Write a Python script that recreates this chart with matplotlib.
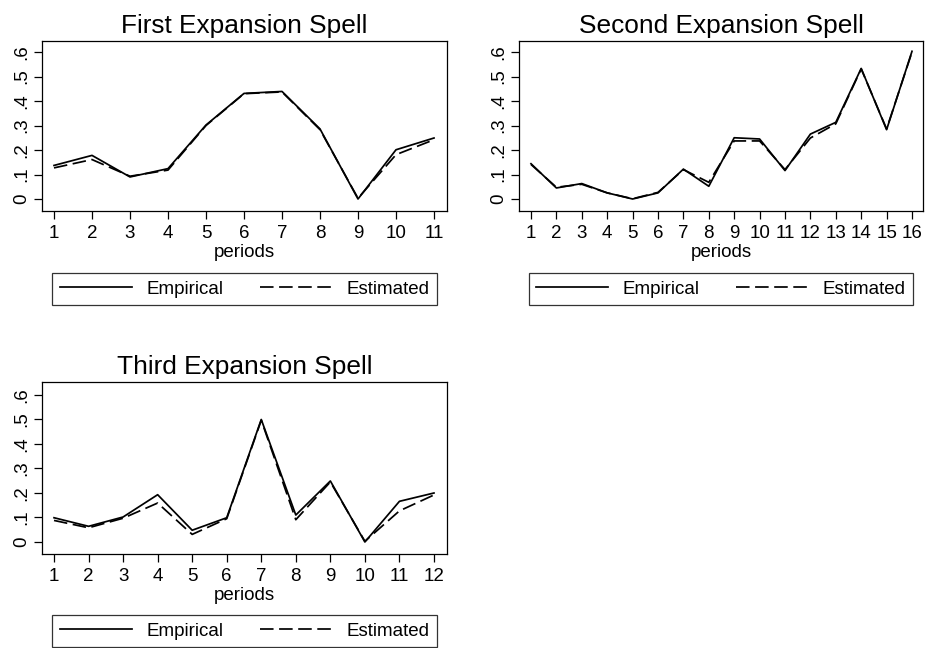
import matplotlib
matplotlib.use("Agg")
import matplotlib.pyplot as plt
from matplotlib.lines import Line2D

plt.rcParams['font.family'] = ['Liberation Sans', 'DejaVu Sans']

titles = ["First Expansion Spell", "Second Expansion Spell", "Third Expansion Spell"]

emp1 = [0.137, 0.178, 0.090, 0.124, 0.302, 0.431, 0.439, 0.286, 0.0, 0.201, 0.249]
est1 = [0.127, 0.161, 0.093, 0.118, 0.300, 0.430, 0.437, 0.283, 0.003, 0.181, 0.242]

emp2 = [0.144, 0.045, 0.063, 0.025, 0.0, 0.025, 0.122, 0.052, 0.250, 0.245,
        0.116, 0.265, 0.313, 0.533, 0.283, 0.603]
est2 = [0.141, 0.048, 0.060, 0.025, 0.001, 0.027, 0.120, 0.068, 0.237, 0.237,
        0.120, 0.249, 0.307, 0.531, 0.286, 0.600]

emp3 = [0.099, 0.064, 0.102, 0.193, 0.048, 0.099, 0.500, 0.110, 0.249, 0.0, 0.166, 0.200]
est3 = [0.088, 0.058, 0.097, 0.159, 0.031, 0.095, 0.497, 0.091, 0.245, 0.003, 0.127, 0.192]

yticks = [0, 0.1, 0.2, 0.3, 0.4, 0.5, 0.6]
ytick_labels = ["0", ".1", ".2", ".3", ".4", ".5", ".6"]

W, H = 925, 648
fig = plt.figure(figsize=(W / 100, H / 100), dpi=100)

def px_axes(l, t, r, b):
    return fig.add_axes([l / W, 1 - b / H, (r - l) / W, (b - t) / H])

panels = [
    ((42, 41, 447, 211), (0.684, 11.342), (-0.049, 0.645), (244.5, 289), emp1, est1, titles[0]),
    ((519, 41, 923, 211), (0.528, 16.433), (-0.049, 0.645), (721, 289), emp2, est2, titles[1]),
    ((42, 382, 447, 554), (0.652, 12.377), (-0.049, 0.653), (244.5, 631), emp3, est3, titles[2]),
]

lw = 1.25
dash = (0, (7.8, 3.2))
for box, xl, yl, lgc, emp, est, title in panels:
    ax = px_axes(*box)
    x = list(range(1, len(emp) + 1))
    ax.plot(x, emp, color='black', lw=lw, ls='-')
    ax.plot(x, est, color='black', lw=lw, ls=dash)
    ax.set_xlim(*xl)
    ax.set_ylim(*yl)
    ax.set_xticks(x)
    ax.set_xticklabels([str(v) for v in x], fontsize=13.5)
    ax.set_yticks(yticks)
    ax.set_yticklabels(ytick_labels, fontsize=13.5, rotation=90, va='center')
    ax.tick_params(direction='out', length=5.8, width=0.9)
    ax.tick_params(axis='x', pad=4.5)
    ax.tick_params(axis='y', pad=3)
    for s in ax.spines.values():
        s.set_linewidth(0.9)
    ax.set_xlabel("periods", fontsize=13.5, labelpad=1.5)
    ax.set_title(title, fontsize=18.9, pad=6)
    handles = [Line2D([], [], color='black', lw=lw, ls='-'),
               Line2D([], [], color='black', lw=lw, ls=dash)]
    cx, cy = lgc
    leg = fig.legend(handles, ["Empirical", "Estimated"], ncol=2,
                     bbox_to_anchor=(cx / W, 1 - cy / H),
                     loc='center', fontsize=13.5, frameon=True,
                     fancybox=False, handlelength=3.84, borderaxespad=0,
                     borderpad=0.4, columnspacing=1.97, handletextpad=0.75)
    leg.get_frame().set_edgecolor('black')
    leg.get_frame().set_linewidth(0.9)

fig.savefig("out.png", dpi=100)
